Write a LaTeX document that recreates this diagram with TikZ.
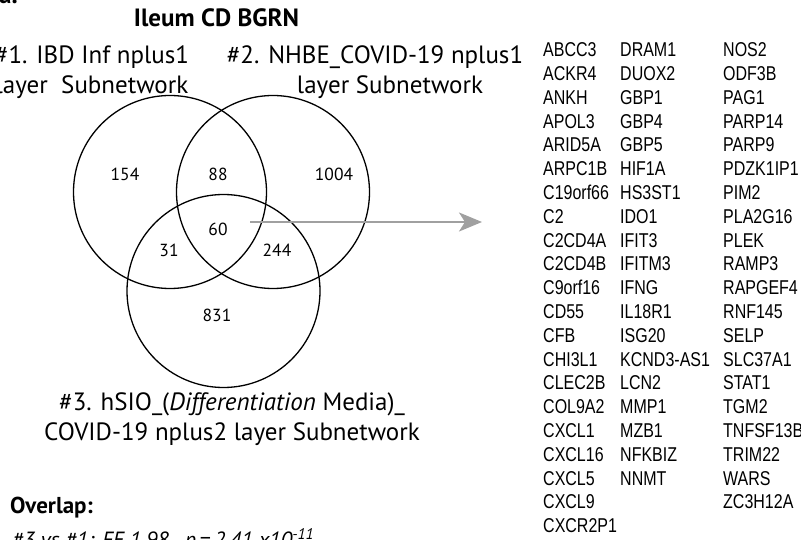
\documentclass[tikz,border=0pt]{standalone}
\usepackage{fontspec}
\setmainfont{PT Sans}
\newfontfamily\genefont[FakeStretch=0.8]{Liberation Sans}
\usetikzlibrary{arrows.meta}
\definecolor{arrowgray}{RGB}{160,160,160}

\begin{document}
\begin{tikzpicture}[x=1pt,y=-1pt,
    setcircle/.style={draw, circle, line width=1.3pt, minimum size=193pt, inner sep=0pt},
    setlabel/.style={align=center, inner sep=0pt, font=\fontsize{25}{30}\selectfont},
    count/.style={inner sep=0pt, font=\fontsize{17.5}{20}\selectfont},
    gene/.style={anchor=base west, inner sep=0pt, font=\genefont\fontsize{20}{24}\selectfont}
]
    \useasboundingbox (0,0) rectangle (801,540);

    % Panel letter, cut off by the top edge
    \node[anchor=base west, inner sep=0pt, font=\bfseries\fontsize{25}{30}\selectfont] (panel) at (-1,4) {a.};

    % Title
    \node[anchor=base, inner sep=0pt, font=\bfseries\fontsize{25}{30}\selectfont] (title) at (216.5,27) {Ileum CD BGRN};

    % The three subnetworks
    \node[setcircle] (setA) at (170,192) {};
    \node[setcircle] (setB) at (273,192) {};
    \node[setcircle] (setC) at (223.5,291) {};

    \node[setlabel, anchor=north] (labA) at (92,46) {\#1. IBD Inf nplus1\\layer\ \ Subnetwork};
    \node[setlabel, anchor=north] (labB) at (375,46) {\#2. NHBE\_COVID-19 nplus1\\\hspace*{30pt}layer Subnetwork};
    \node[setlabel, anchor=north] (labC) at (232,392) {\#3. hSIO\_(\textit{Differentiation} Media)\_\\COVID-19 nplus2 layer Subnetwork};

    % Counts in each region
    \node[count] (nA) at (125,174) {154};
    \node[count] (nAB) at (218,174) {88};
    \node[count] (nB) at (334,174) {1004};
    \node[count] (nABC) at (218,229) {60};
    \node[count] (nAC) at (169,250) {31};
    \node[count] (nBC) at (277,250) {244};
    \node[count] (nC) at (217,315) {831};

    % Arrow to the shared genes
    \coordinate (arrowstart) at (250,222);
    \coordinate (arrowend) at (482,222);
    \draw[arrowgray, line width=2pt, -{Stealth[length=23pt, width=19pt, inset=6pt]}] (arrowstart) -- (arrowend);

    % Gene list, three columns
    \foreach \g [count=\i from 0] in {ABCC3,ACKR4,ANKH,APOL3,ARID5A,ARPC1B,C19orf66,C2,C2CD4A,C2CD4B,C9orf16,CD55,CFB,CHI3L1,CLEC2B,COL9A2,CXCL1,CXCL16,CXCL5,CXCL9,CXCR2P1} {
        \node[gene] (ga\i) at (543, 56.7+\i*23.8) {\g};
    }
    \foreach \g [count=\i from 0] in {DRAM1,DUOX2,GBP1,GBP4,GBP5,HIF1A,HS3ST1,IDO1,IFIT3,IFITM3,IFNG,IL18R1,ISG20,KCND3-AS1,LCN2,MMP1,MZB1,NFKBIZ,NNMT} {
        \node[gene] (gb\i) at (620, 56.7+\i*23.8) {\g};
    }
    \foreach \g [count=\i from 0] in {NOS2,ODF3B,PAG1,PARP14,PARP9,PDZK1IP1,PIM2,PLA2G16,PLEK,RAMP3,RAPGEF4,RNF145,SELP,SLC37A1,STAT1,TGM2,TNFSF13B,TRIM22,WARS,ZC3H12A} {
        \node[gene] (gc\i) at (723, 56.7+\i*23.8) {\g};
    }

    % Overlap statistics
    \node[anchor=base west, inner sep=0pt, font=\bfseries\fontsize{23}{27}\selectfont] (overlap) at (10,513) {Overlap:};
    \node[anchor=base west, inner sep=0pt, font=\itshape\fontsize{22}{26}\selectfont] (stat) at (12,547) {\#3 vs \#1: FE 1.98,\ \ p\,=\,2.41 x10\textsuperscript{-11}};

\end{tikzpicture}
\end{document}
